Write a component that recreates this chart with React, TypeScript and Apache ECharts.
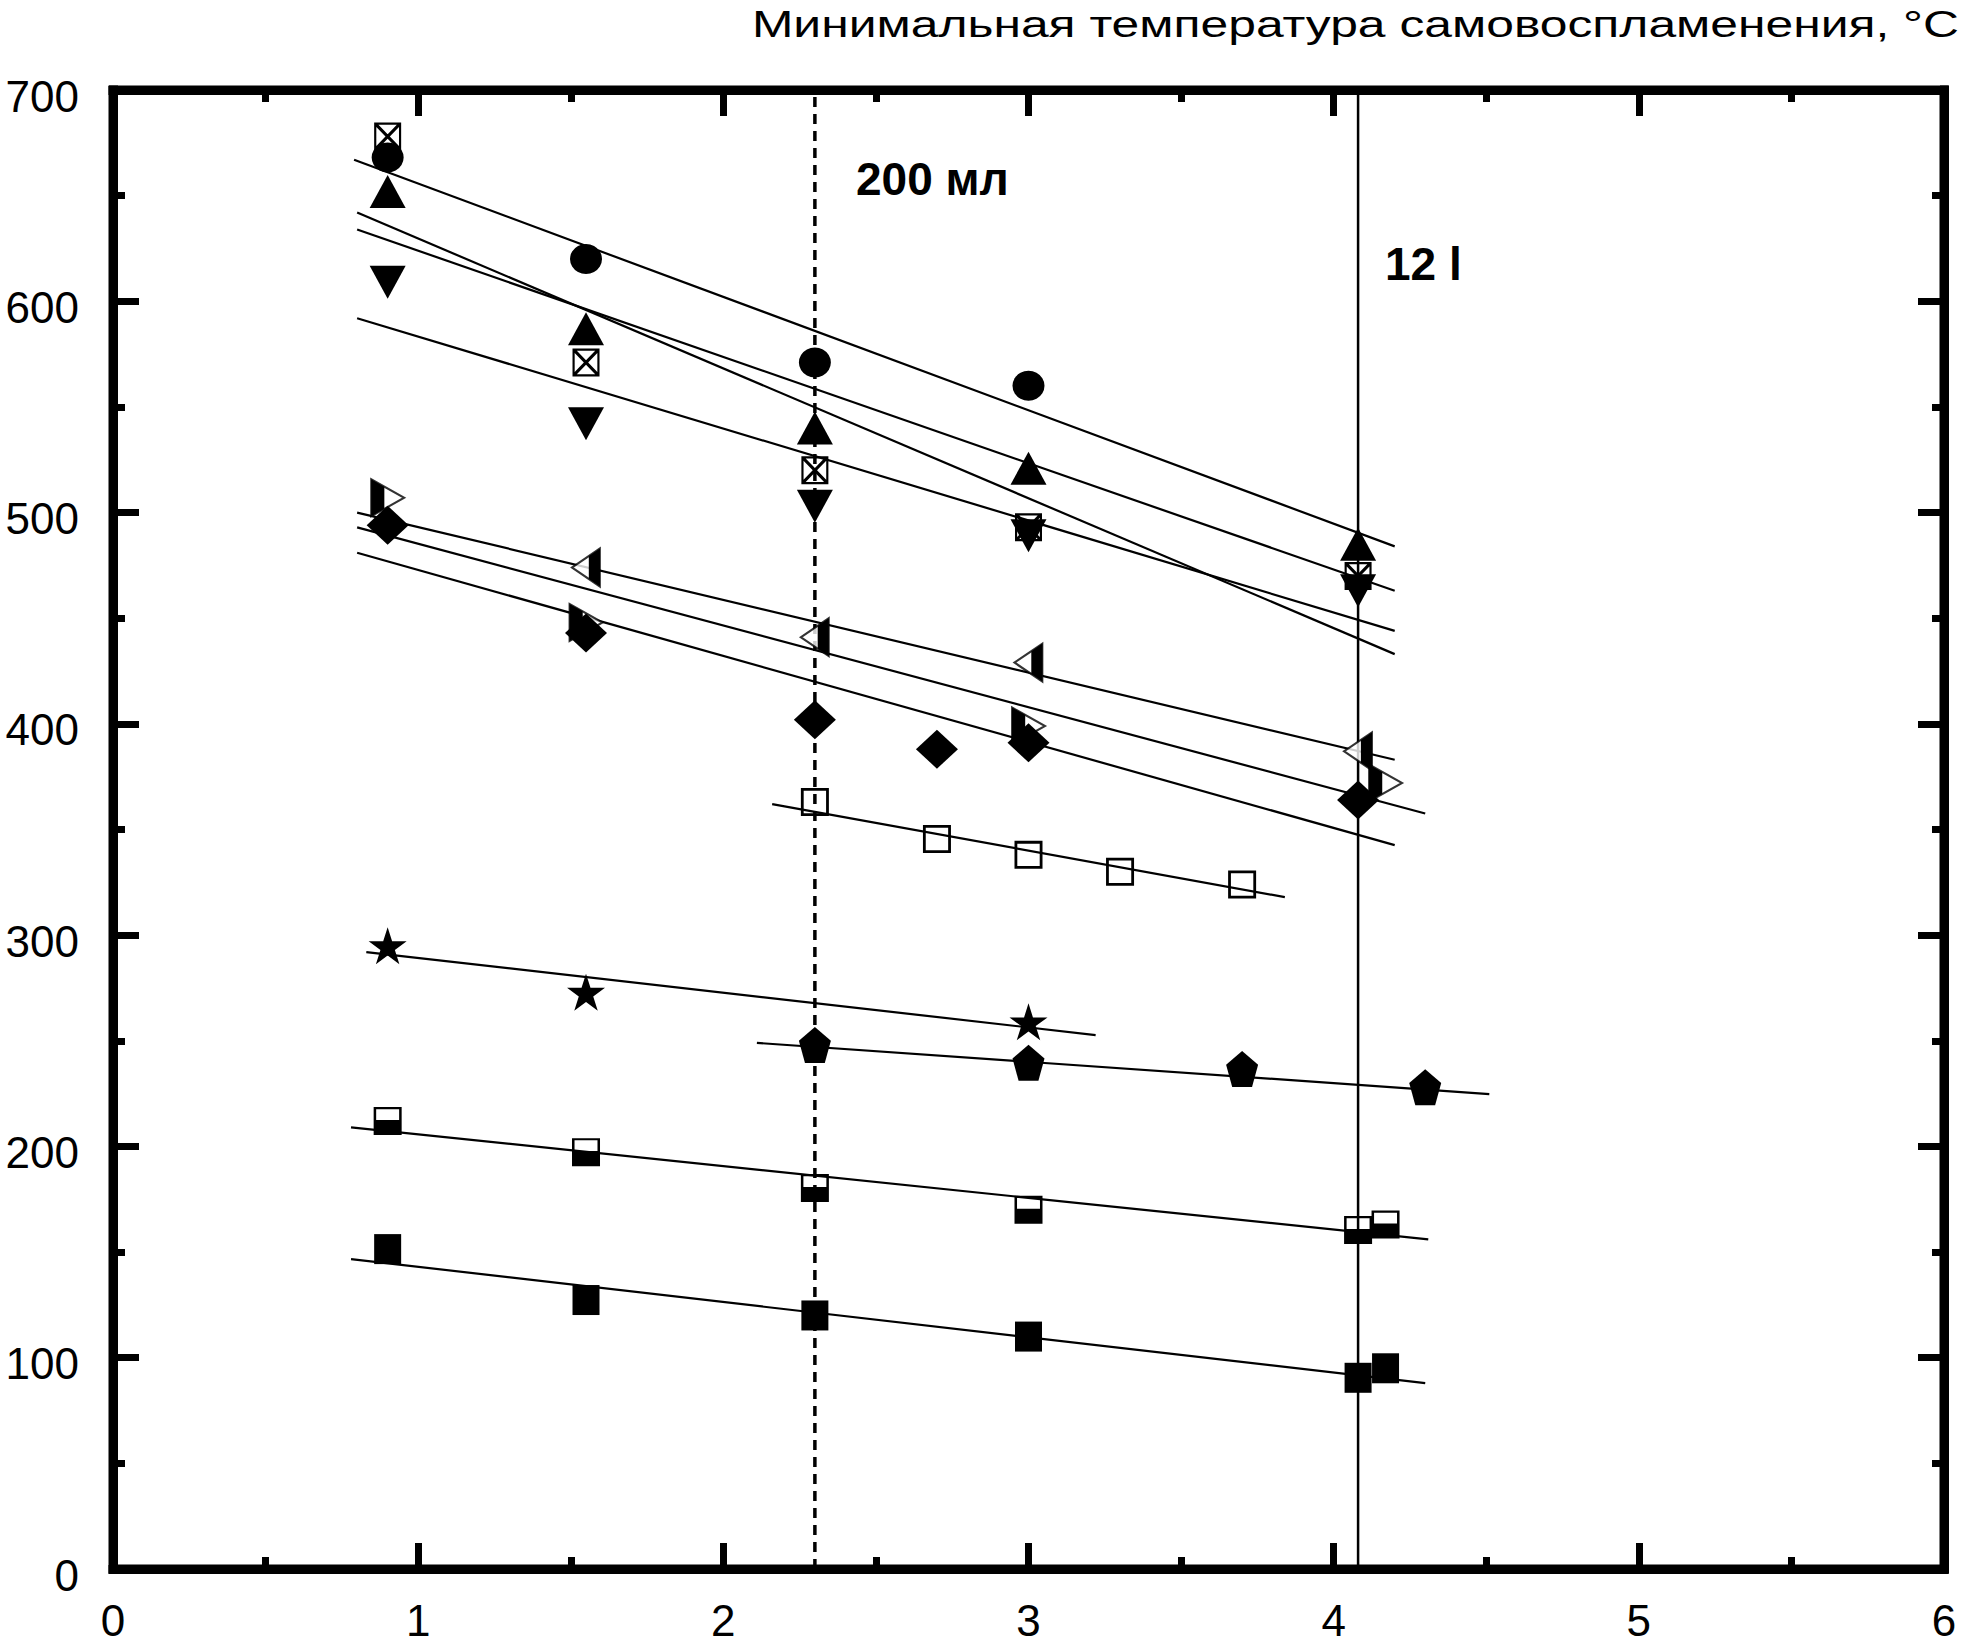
import React, { useEffect, useRef } from 'react';
import * as echarts from 'echarts';

const TITLE = 'Минимальная температура самовоспламенения, °C';
const LABEL_200 = '200 мл';
const LABEL_12 = '12 l';

const xMin = 0, xMax = 6, xStep = 1;
const yMin = 0, yMax = 700, yStep = 100;

const vDashedX = 2.3;
const vSolidX = 4.08;

// marker data [x, T]
const circlePts = [[0.9, 668], [1.55, 620], [2.3, 571], [3.0, 560]];
const triUpPts = [[0.9, 652], [1.55, 587], [2.3, 540], [3.0, 521], [4.08, 485]];
const triDownPts = [[0.9, 609], [1.55, 542], [2.3, 503], [3.0, 489], [4.08, 463]];
const crossSqPts = [[0.9, 678], [1.55, 571], [2.3, 520], [3.0, 493], [4.08, 470]];
const diamondPts = [[0.9, 494], [1.55, 443], [2.3, 402], [2.7, 388], [3.0, 391], [4.08, 364]];
const leftHalfPts = [[1.55, 474], [2.3, 441], [3.0, 429], [4.08, 387]];
const rightHalfPts = [[0.9, 507], [1.55, 448], [3.0, 399], [4.17, 372]];
const openSqPts = [[2.3, 363], [2.7, 345.5], [3.0, 338], [3.3, 330], [3.7, 324]];
const starPts = [[0.9, 295], [1.55, 273], [3.0, 259]];
const pentPts = [[2.3, 248], [3.0, 239.6], [3.7, 236.6], [4.3, 228]];
const halfSqPts = [[0.9, 212], [1.55, 197.3], [2.3, 180.3], [3.0, 170], [4.08, 160.4], [4.17, 163]];
const filledSqPts = [[0.9, 151.4], [1.55, 127.3], [2.3, 120], [3.0, 110], [4.08, 90.5], [4.17, 95]];

// fitted lines (end points)
const fitCircle = [[0.79, 667], [4.2, 484]];
const fitTriUp = [[0.8, 634], [4.2, 463]];
const fitTriDown = [[0.8, 592], [4.2, 444]];
const fitCrossSq = [[0.8, 642], [4.2, 433]];
const fitLeftHalf = [[0.8, 500], [4.2, 383]];
const fitRightHalf = [[0.8, 493], [4.3, 357.6]];
const fitDiamond = [[0.8, 481], [4.2, 342.6]];
const fitOpenSq = [[2.16, 362], [3.84, 318]];
const fitStar = [[0.83, 292], [3.22, 252.7]];
const fitPent = [[2.11, 249], [4.51, 224.8]];
const fitHalfSq = [[0.78, 209], [4.31, 156]];
const fitFilledSq = [[0.78, 146.7], [4.3, 88]];

const SYM_TRI_DOWN = 'path://M0,0L100,0L50,100Z';
const SYM_CROSS_SQ = 'path://M0,0L100,0L100,100L0,100Z M8,92L92,92L92,8L8,8Z M8,8L16,8L92,84L92,92L84,92L8,16Z M92,8L92,16L16,92L8,92L8,84L84,8Z';
const SYM_OPEN_SQ = 'path://M0,0L100,0L100,100L0,100Z M10,90L90,90L90,10L10,10Z';
const SYM_HALF_SQ = 'path://M0,0L100,0L100,100L0,100Z M9,46L91,46L91,8L9,8Z';
const SYM_PENT = 'path://M50,0L100,38L81,100L19,100L0,38Z';
const SYM_STAR = 'path://M50,0L61.17,34.63L97.55,34.55L68.07,55.87L79.39,90.45L50,69L20.61,90.45L31.93,55.87L2.45,34.55L38.83,34.63Z';
const SYM_TRI_LEFT = 'path://M0,50L100,0L100,100Z';
const SYM_TRI_LEFT_FILL = 'path://M0,20L40,0L40,100L0,80Z';
const SYM_TRI_RIGHT = 'path://M0,0L100,50L0,100Z';
const SYM_TRI_RIGHT_FILL = 'path://M0,0L40,20L40,80L0,100Z';

const FONT = '"Liberation Sans", Arial, sans-serif';

function fitLine(data: number[][]) {
  return {
    type: 'line',
    data,
    symbol: 'none',
    showSymbol: false,
    silent: true,
    z: 2,
    lineStyle: { color: '#000', width: 2.2 },
  };
}

function scatter(data: number[][], symbol: string, size: number[], extra: any = {}) {
  return {
    type: 'scatter',
    data,
    symbol,
    symbolSize: size,
    silent: true,
    z: 5,
    itemStyle: { color: '#000', opacity: 1 },
    ...extra,
  };
}

export default function App() {
  const ref = useRef<HTMLDivElement>(null);

  useEffect(() => {
    const el = ref.current;
    if (!el) return;
    const chart = echarts.init(el, null, { renderer: 'svg' });

    const ctx = document.createElement('canvas').getContext('2d');
    let titleW = 886;
    if (ctx) {
      ctx.font = '37px "Liberation Sans"';
      titleW = ctx.measureText(TITLE).width || 886;
    }
    const titleScale = 1207 / titleW;

    const axisCommon = {
      type: 'value',
      splitLine: { show: false },
      axisLine: { show: true, onZero: false, lineStyle: { color: '#000', width: 9, cap: 'square' } },
      axisTick: { show: true, inside: true, length: 26, lineStyle: { color: '#000', width: 7 } },
      minorTick: { show: true, splitNumber: 2, length: 12, lineStyle: { color: '#000', width: 7 } },
    };

    const option: any = {
      animation: false,
      backgroundColor: '#fff',
      grid: {
        left: 113,
        right: 17,
        top: 90,
        bottom: 78,
        show: true,
        borderColor: '#000',
        borderWidth: 9,
        backgroundColor: 'transparent',
      },
      xAxis: [
        {
          ...axisCommon,
          position: 'bottom',
          min: xMin,
          max: xMax,
          interval: xStep,
          axisLabel: { show: true, color: '#000', fontSize: 44, lineHeight: 40, fontFamily: FONT, margin: 31 },
        },
        {
          ...axisCommon,
          position: 'top',
          min: xMin,
          max: xMax,
          interval: xStep,
          axisLabel: { show: false },
        },
      ],
      yAxis: [
        {
          ...axisCommon,
          position: 'left',
          min: yMin,
          max: yMax,
          interval: yStep,
          axisLabel: { show: true, color: '#000', fontSize: 44, fontFamily: FONT, margin: 34, verticalAlign: 'top', lineHeight: 12 },
        },
        {
          ...axisCommon,
          position: 'right',
          min: yMin,
          max: yMax,
          interval: yStep,
          axisLabel: { show: false },
        },
      ],
      graphic: [
        {
          type: 'text',
          x: 1959,
          y: 24,
          scaleX: titleScale,
          style: { text: TITLE, fontSize: 37, fontFamily: FONT, fill: '#000', align: 'right', verticalAlign: 'middle' },
        },
        {
          type: 'text',
          x: 856,
          y: 179,
          style: { text: LABEL_200, fontSize: 46, fontWeight: 'bold', fontFamily: FONT, fill: '#000', align: 'left', verticalAlign: 'middle' },
        },
        {
          type: 'text',
          x: 1385,
          y: 264,
          style: { text: LABEL_12, fontSize: 46, fontWeight: 'bold', fontFamily: FONT, fill: '#000', align: 'left', verticalAlign: 'middle' },
        },
      ],
      series: [
        {
          type: 'line',
          data: [[vDashedX, yMin], [vDashedX, yMax]],
          symbol: 'none',
          silent: true,
          z: 1,
          lineStyle: { color: '#000', width: 3.5, type: [10, 7] },
        },
        {
          type: 'line',
          data: [[vSolidX, yMin], [vSolidX, yMax]],
          symbol: 'none',
          silent: true,
          z: 1,
          lineStyle: { color: '#000', width: 2.5 },
        },
        fitLine(fitCircle),
        fitLine(fitTriUp),
        fitLine(fitTriDown),
        fitLine(fitCrossSq),
        fitLine(fitLeftHalf),
        fitLine(fitRightHalf),
        fitLine(fitDiamond),
        fitLine(fitOpenSq),
        fitLine(fitStar),
        fitLine(fitPent),
        fitLine(fitHalfSq),
        fitLine(fitFilledSq),
        scatter(crossSqPts, SYM_CROSS_SQ, [27, 28]),
        scatter(triDownPts, SYM_TRI_DOWN, [36, 33]),
        scatter(triUpPts, 'triangle', [36, 33]),
        scatter(circlePts, 'circle', [32, 30]),
        scatter(leftHalfPts, SYM_TRI_LEFT, [28, 38], { itemStyle: { color: '#fff', borderColor: '#000', borderWidth: 2 } }),
        scatter(leftHalfPts, SYM_TRI_LEFT_FILL, [11.2, 38], { symbolOffset: [8.4, 0], z: 6 }),
        scatter(rightHalfPts, SYM_TRI_RIGHT, [33, 37], { itemStyle: { color: '#fff', borderColor: '#000', borderWidth: 2 } }),
        scatter(rightHalfPts, SYM_TRI_RIGHT_FILL, [13.2, 37], { symbolOffset: [-9.9, 0], z: 6 }),
        scatter(diamondPts, 'diamond', [42, 39], { z: 7 }),
        scatter(openSqPts, SYM_OPEN_SQ, [28, 28]),
        scatter(starPts, SYM_STAR, [38, 37]),
        scatter(pentPts, SYM_PENT, [32, 36]),
        scatter(halfSqPts, SYM_HALF_SQ, [28, 28]),
        scatter(filledSqPts, 'rect', [27, 30]),
      ],
    };

    chart.setOption(option);
    return () => chart.dispose();
  }, []);

  return (
    <div
      ref={ref}
      style={{ position: 'fixed', left: 0, top: 0, width: 1961, height: 1647, background: '#fff' }}
    />
  );
}
